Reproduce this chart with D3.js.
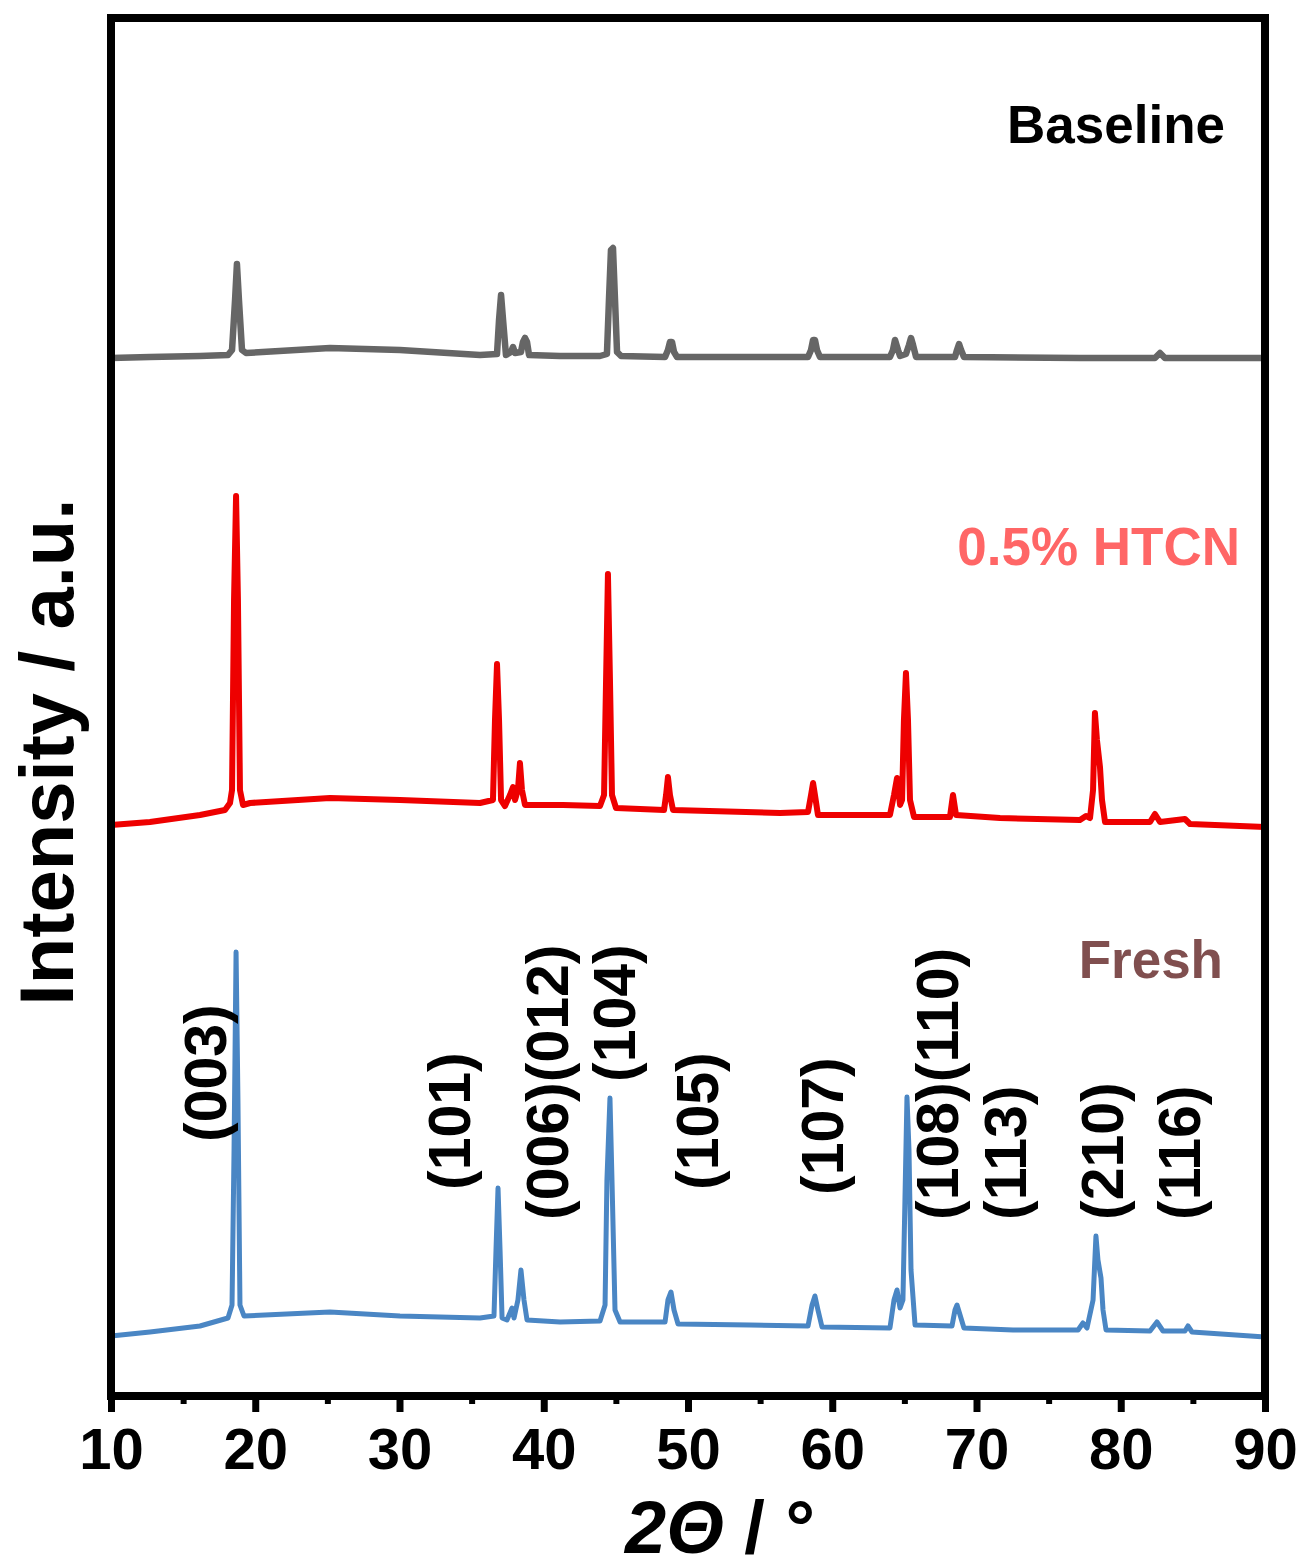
<!DOCTYPE html>
<html>
<head>
<meta charset="utf-8">
<script src="https://cdn.jsdelivr.net/npm/d3@7"></script>
<style>
  body { margin: 0; background: #fff; }
  svg { display: block; }
  text { font-family: "Liberation Sans", Arial, sans-serif; font-weight: bold; }
</style>
</head>
<body>
<svg id="chart" width="1303" height="1568"></svg>
<script>
// XRD patterns, [2theta, stacked intensity (a.u.)]
const baselineXRD = [
  [10.00, 1038], [12.70, 1039], [16.17, 1040], [18.11, 1041], [18.39, 1046], [18.60, 1096],
  [18.73, 1132], [18.87, 1096], [19.08, 1046], [19.36, 1043], [25.18, 1048], [30.03, 1046],
  [35.58, 1041], [36.76, 1042], [36.90, 1076], [37.04, 1101], [37.18, 1076], [37.38, 1041],
  [37.73, 1044], [37.87, 1049], [38.01, 1043], [38.42, 1044], [38.56, 1054], [38.70, 1058],
  [38.84, 1054], [38.98, 1041], [41.13, 1040], [43.90, 1040], [44.38, 1042], [44.52, 1096],
  [44.66, 1146], [44.80, 1148], [44.94, 1096], [45.08, 1044], [45.36, 1040], [48.41, 1039],
  [48.61, 1046], [48.75, 1054], [48.89, 1054], [49.03, 1044], [49.24, 1039], [54.30, 1039],
  [58.32, 1039], [58.53, 1046], [58.67, 1056], [58.80, 1056], [58.94, 1046], [59.15, 1039],
  [64.00, 1039], [64.21, 1046], [64.35, 1056], [64.56, 1046], [64.70, 1040], [65.11, 1042],
  [65.32, 1051], [65.46, 1058], [65.60, 1051], [65.81, 1039], [68.51, 1039], [68.65, 1046],
  [68.79, 1052], [68.93, 1046], [69.13, 1039], [77.17, 1038], [82.37, 1038], [82.72, 1043],
  [83.06, 1038], [90.00, 1038]
];

const htcnXRD = [
  [10.00, 571], [12.70, 574], [16.17, 581], [17.90, 586], [18.25, 593], [18.39, 606],
  [18.53, 796], [18.67, 900], [18.80, 796], [18.94, 606], [19.15, 591], [19.64, 593],
  [25.18, 598], [30.03, 596], [35.58, 593], [36.48, 596], [36.62, 676], [36.76, 732],
  [36.90, 676], [37.04, 596], [37.31, 590], [37.66, 601], [37.87, 609], [38.01, 596],
  [38.21, 606], [38.35, 633], [38.49, 606], [38.70, 591], [41.34, 591], [43.90, 590],
  [44.18, 601], [44.32, 716], [44.45, 822], [44.59, 716], [44.73, 601], [45.01, 588],
  [48.34, 586], [48.48, 601], [48.61, 619], [48.75, 601], [48.96, 586], [56.38, 583],
  [58.32, 584], [58.53, 601], [58.67, 613], [58.80, 601], [59.01, 581], [64.00, 581],
  [64.28, 601], [64.49, 618], [64.70, 591], [64.84, 596], [64.97, 676], [65.11, 723],
  [65.25, 676], [65.39, 596], [65.67, 579], [68.16, 579], [68.37, 601], [68.58, 581],
  [71.63, 578], [77.17, 576], [77.59, 580], [77.87, 578], [78.08, 606], [78.21, 683],
  [78.35, 656], [78.56, 629], [78.70, 596], [78.91, 574], [82.03, 574], [82.37, 582],
  [82.72, 574], [84.45, 577], [84.80, 572], [90.00, 569]
];

const freshXRD = [
  [10.00, 60], [12.70, 64], [16.17, 70], [18.11, 78], [18.39, 91], [18.53, 246],
  [18.67, 444], [18.80, 296], [18.94, 91], [19.22, 80], [25.18, 84], [30.03, 80],
  [35.58, 78], [36.55, 80], [36.69, 146], [36.83, 208], [36.97, 146], [37.11, 78],
  [37.45, 76], [37.80, 88], [37.94, 78], [38.21, 96], [38.42, 126], [38.63, 96],
  [38.84, 76], [41.13, 74], [43.90, 75], [44.25, 91], [44.38, 216], [44.59, 298],
  [44.73, 216], [44.94, 86], [45.29, 74], [48.41, 74], [48.61, 96], [48.82, 104],
  [49.03, 86], [49.31, 72], [54.30, 71], [58.32, 70], [58.60, 91], [58.80, 100],
  [59.01, 86], [59.29, 69], [64.00, 68], [64.28, 96], [64.49, 106], [64.70, 88],
  [64.90, 96], [65.04, 196], [65.18, 299], [65.32, 246], [65.46, 126], [65.74, 71],
  [68.30, 70], [68.51, 86], [68.65, 91], [68.86, 81], [69.13, 68], [72.53, 66],
  [77.04, 66], [77.38, 73], [77.66, 68], [78.08, 96], [78.28, 160], [78.42, 136],
  [78.63, 118], [78.77, 86], [78.98, 66], [82.03, 65], [82.51, 74], [82.93, 65],
  [84.45, 65], [84.66, 70], [84.94, 64], [90.00, 59]
];

const seriesNames = ['Baseline', '0.5% HTCN', 'Fresh'];

// Miller indices written over the Fresh pattern
const hklLabels = ['(003)', '(101)', '(006)(012)', '(104)', '(105)', '(107)', '(108)(110)', '(113)', '(210)', '(116)'];
const hklTheta = [17.97, 34.89, 41.68, 46.33, 52.08, 60.75, 68.72, 73.43, 80.16, 85.49];
const hklStart = [254, 206, 176, 314, 206, 201, 176, 176, 176, 176];

const majorTicks = [10, 20, 30, 40, 50, 60, 70, 80, 90];
const minorTicks = [15, 25, 35, 45, 55, 65, 75, 85];

const margin = { left: 111, right: 1265, top: 18, bottom: 1396 };
const svg = d3.select('#chart');

const x = d3.scaleLinear().domain([10, 90]).range([margin.left, margin.right]);
const y = d3.scaleLinear().domain([0, 1378]).range([margin.bottom, margin.top]);

const line = d3.line()
    .x(d => x(d[0]))
    .y(d => y(d[1]));

const traces = [
    { data: baselineXRD, color: '#666666', width: 6.5 },
    { data: htcnXRD, color: '#EE0000', width: 6 },
    { data: freshXRD, color: '#4A86C4', width: 5 },
];

svg.append('g').attr('class', 'traces')
    .selectAll('path')
    .data(traces)
    .join('path')
    .attr('d', d => line(d.data))
    .attr('fill', 'none')
    .attr('stroke', d => d.color)
    .attr('stroke-width', d => d.width)
    .attr('stroke-linejoin', 'round')
    .attr('stroke-linecap', 'butt');

// hkl annotations (rotated)
svg.append('g').attr('class', 'hkl')
    .selectAll('text')
    .data(hklLabels)
    .join('text')
    .attr('transform', (d, i) => `translate(${x(hklTheta[i])},${y(hklStart[i])}) rotate(-90)`)
    .style('font-size', '59px')
    .attr('fill', '#000')
    .text(d => d);

// series names
const nameX = [1225, 1240, 1223];
const nameY = [143, 565, 978];
const nameColor = ['#000000', '#FF6666', '#804F4F'];
svg.append('g').attr('class', 'names')
    .selectAll('text')
    .data(seriesNames)
    .join('text')
    .attr('x', (d, i) => nameX[i])
    .attr('y', (d, i) => nameY[i])
    .attr('text-anchor', 'end')
    .style('font-size', '53px')
    .attr('fill', (d, i) => nameColor[i])
    .text(d => d);

// axis ticks
const xAxis = d3.axisBottom(x).tickValues(majorTicks).tickSize(16).tickPadding(16).tickFormat(d3.format('d'));
const xMinor = d3.axisBottom(x).tickValues(minorTicks).tickSize(8).tickFormat('');

const gx = svg.append('g').attr('transform', `translate(0,${margin.bottom})`).call(xAxis);
gx.select('.domain').remove();
gx.selectAll('.tick line').attr('stroke', '#000').attr('stroke-width', 7);
gx.selectAll('.tick text')
    .attr('fill', '#000')
    .style('font-family', '"Liberation Sans", Arial, sans-serif')
    .style('font-weight', 'bold')
    .style('font-size', '58px');

const gm = svg.append('g').attr('transform', `translate(0,${margin.bottom})`).call(xMinor);
gm.select('.domain').remove();
gm.selectAll('.tick line').attr('stroke', '#000').attr('stroke-width', 6);

// frame
svg.append('rect')
    .attr('x', margin.left)
    .attr('y', margin.top)
    .attr('width', margin.right - margin.left)
    .attr('height', margin.bottom - margin.top)
    .attr('fill', 'none')
    .attr('stroke', '#000')
    .attr('stroke-width', 8);

// axis titles
const xTitle = svg.append('text')
    .attr('x', 720)
    .attr('y', 1553)
    .attr('text-anchor', 'middle')
    .style('font-size', '74px')
    .style('font-style', 'italic')
    .attr('fill', '#000');
xTitle.append('tspan').text('2Θ');
xTitle.append('tspan').style('font-style', 'normal').text(' / °');

svg.append('text')
    .attr('transform', 'translate(73,752) rotate(-90)')
    .attr('text-anchor', 'middle')
    .style('font-size', '76px')
    .attr('fill', '#000')
    .text('Intensity / a.u.');
</script>
</body>
</html>
